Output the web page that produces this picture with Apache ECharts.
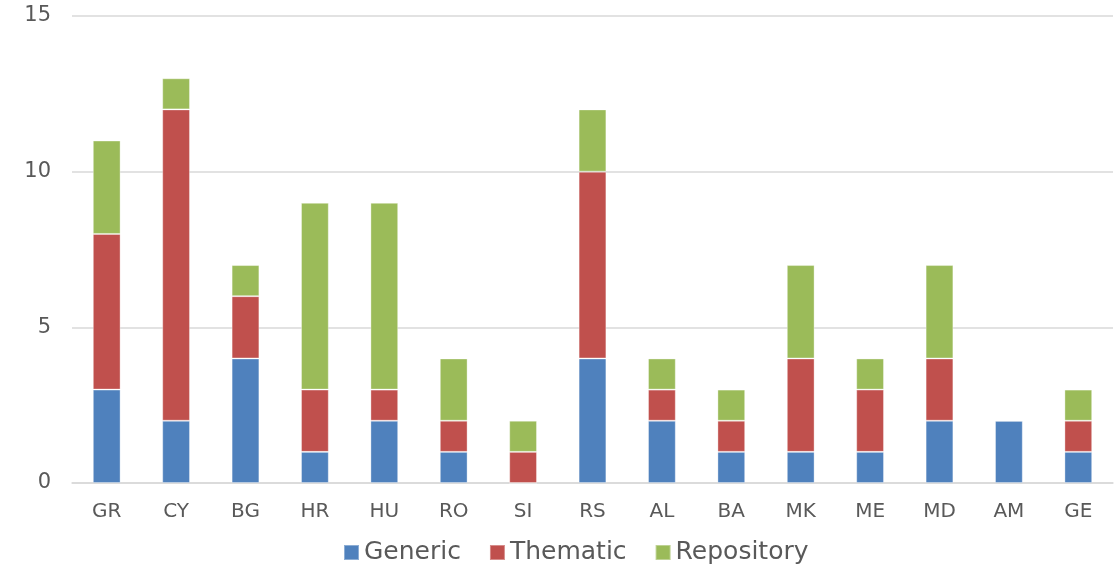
<!DOCTYPE html>
<html>
<head>
<meta charset="utf-8">
<script src="https://cdn.jsdelivr.net/npm/echarts@6/dist/echarts.min.js"></script>
<style>
  html, body { margin: 0; padding: 0; background: #fff; }
  #chart { width: 1115px; height: 568px; }
</style>
</head>
<body>
<div id="chart"></div>
<script>
// Countries on the category axis
const countries = ['GR', 'CY', 'BG', 'HR', 'HU', 'RO', 'SI', 'RS', 'AL', 'BA', 'MK', 'ME', 'MD', 'AM', 'GE'];

// Counts per type, stacked per country
const generic    = [3, 2, 4, 1, 2, 1, 0, 4, 2, 1, 1, 1, 2, 2, 1];
const thematic   = [5, 10, 2, 2, 1, 1, 1, 6, 1, 1, 3, 2, 2, 0, 1];
const repository = [3, 1, 1, 6, 6, 2, 1, 2, 1, 1, 3, 1, 3, 0, 1];

const seriesNames = ['Generic', 'Thematic', 'Repository'];
const seriesColors = ['#4F81BD', '#C0504D', '#9BBB59'];
const seriesValues = [generic, thematic, repository];

const font = '"DejaVu Sans", Verdana, sans-serif';

const chart = echarts.init(document.getElementById('chart'), null, { renderer: 'canvas' });

chart.setOption({
  animation: false,
  backgroundColor: '#ffffff',
  grid: { left: 72, right: 2, top: 16, bottom: 85, containLabel: false },
  legend: {
    top: 535,
    left: 338,
    itemWidth: 15,
    itemHeight: 15,
    itemGap: 28,
    icon: 'rect',
    textStyle: { fontFamily: font, fontSize: 25, color: '#595959' },
    data: seriesNames
  },
  xAxis: {
    type: 'category',
    data: countries,
    axisLine: { show: true, lineStyle: { color: '#d9d9d9', width: 1.5 } },
    axisTick: { show: false },
    axisLabel: { fontFamily: font, fontSize: 20, color: '#595959', margin: 19 }
  },
  yAxis: {
    type: 'value',
    min: 0,
    max: 15,
    interval: 5,
    axisLine: { show: false },
    axisTick: { show: false },
    splitLine: { lineStyle: { color: '#d9d9d9', width: 1.5 } },
    axisLabel: { fontFamily: font, fontSize: 21, color: '#595959', margin: 21 }
  },
  series: seriesNames.map((name, i) => ({
    name: name,
    type: 'bar',
    stack: 'total',
    barWidth: '40%',
    data: seriesValues[i],
    itemStyle: {
      color: seriesColors[i],
      borderColor: 'rgba(255,255,255,0.35)',
      borderWidth: 1
    }
  }))
});
</script>
</body>
</html>
